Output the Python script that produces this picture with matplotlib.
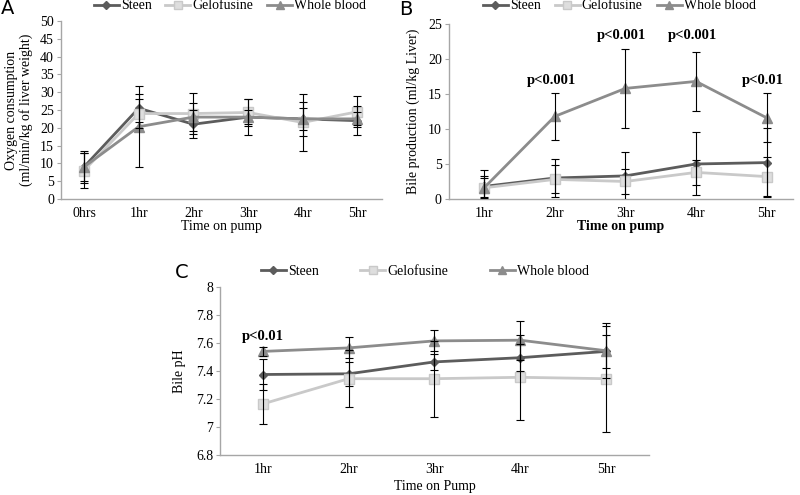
import matplotlib
matplotlib.use("Agg")
import matplotlib.pyplot as plt
import numpy as np

plt.rcParams['font.family'] = ['Liberation Serif', 'DejaVu Serif']

# panel A - oxygen consumption
hours_a = ['0hrs', '1hr', '2hr', '3hr', '4hr', '5hr']
steen_a = [9.0, 25.5, 21.0, 23.0, 22.5, 22.0]
steen_a_err = [4.5, 4.0, 4.0, 5.0, 4.8, 4.0]
gelo_a = [8.0, 24.0, 24.0, 24.3, 21.5, 24.5]
gelo_a_err = [5.0, 4.0, 5.8, 3.7, 8.0, 4.3]
blood_a = [9.0, 20.3, 23.0, 23.0, 22.5, 22.5]
blood_a_err = [4.0, 11.3, 4.0, 2.0, 3.0, 1.8]

# panel B - bile production
hours_b = ['1hr', '2hr', '3hr', '4hr', '5hr']
steen_b = [1.8, 3.0, 3.3, 5.0, 5.2]
steen_b_err = [1.5, 2.7, 3.4, 4.5, 4.9]
gelo_b = [1.6, 2.8, 2.5, 3.8, 3.2]
gelo_b_err = [1.4, 2.0, 1.8, 1.8, 2.8]
blood_b = [1.6, 11.8, 15.8, 16.8, 11.6]
blood_b_err = [2.6, 3.4, 5.6, 4.2, 3.5]
pvals_b = ['', 'p<0.001', 'p<0.001', 'p<0.001', 'p<0.01']
pval_y_b = [0, 17.0, 23.4, 23.4, 16.9]

# panel C - bile pH
hours_c = ['1hr', '2hr', '3hr', '4hr', '5hr']
steen_c = [7.375, 7.38, 7.465, 7.495, 7.54]
steen_c_err = [0.11, 0.085, 0.055, 0.095, 0.12]
gelo_c = [7.165, 7.345, 7.345, 7.355, 7.345]
gelo_c_err = [0.145, 0.205, 0.27, 0.305, 0.38]
blood_c = [7.54, 7.565, 7.615, 7.62, 7.545]
blood_c_err = [0.03, 0.075, 0.075, 0.14, 0.195]

c_steen = '#5c5c5c'
c_gelo = '#c9c9c9'
c_blood = '#8c8c8c'
c_axis = '#a6a6a6'


def draw(ax, labels, series, errs):
    x = np.arange(len(labels))
    styles = [
        dict(color=c_steen, marker='D', ms=4.5, mfc=c_steen, mec=c_steen, label='Steen'),
        dict(color=c_gelo, marker='s', ms=7, mfc='#dedede', mec=c_gelo, label='Gelofusine'),
        dict(color=c_blood, marker='^', ms=7, mfc=c_blood, mec=c_blood, label='Whole blood'),
    ]
    for y, st in zip(series, styles):
        ax.plot(x, y, lw=2, zorder=2, **st)
    for y, e in zip(series, errs):
        ax.errorbar(x, y, yerr=e, fmt='none', ecolor='black', elinewidth=0.8,
                    capsize=3, capthick=0.8, zorder=3)
    ax.set_xticks(x)
    ax.set_xticklabels(labels)
    for s in ['top', 'right']:
        ax.spines[s].set_visible(False)
    for s in ['left', 'bottom']:
        ax.spines[s].set_color(c_axis)
        ax.spines[s].set_linewidth(1)
    ax.tick_params(axis='x', length=0, pad=6, labelsize=10)
    ax.tick_params(axis='y', length=3, color=c_axis, pad=2, labelsize=10)


def add_legend(ax, cx, cy, spacing):
    ax.legend(loc='center', bbox_to_anchor=(cx, cy), bbox_transform=fig.transFigure,
              ncol=3, frameon=False, fontsize=10, handlelength=1.8, handletextpad=0.15,
              columnspacing=spacing, borderaxespad=0, markerscale=0.85)


fig = plt.figure(figsize=(8, 4.95), dpi=100, facecolor='white')

axA = fig.add_axes([0.07625, 0.598, 0.40125, 0.3596])
draw(axA, hours_a, [steen_a, gelo_a, blood_a], [steen_a_err, gelo_a_err, blood_a_err])
axA.set_xlim(-0.42, 5.45)
axA.set_ylim(0, 50)
axA.set_yticks(np.arange(0, 51, 5))
axA.set_ylabel('Oxygen consumption\n(ml/min/kg of liver weight)', fontsize=10, linespacing=1.05)
axA.yaxis.set_label_coords(-0.088, 0.5)
axA.set_xlabel('Time on pump', fontsize=10)
axA.xaxis.set_label_coords(0.5, -0.12)
add_legend(axA, 0.2875, 0.988, 1.0)

axB = fig.add_axes([0.561, 0.598, 0.43, 0.3535])
draw(axB, hours_b, [steen_b, gelo_b, blood_b], [steen_b_err, gelo_b_err, blood_b_err])
axB.set_xlim(-0.5, 4.37)
axB.set_ylim(0, 25)
axB.set_yticks(np.arange(0, 26, 5))
axB.set_ylabel('Bile production (ml/kg Liver)', fontsize=10)
axB.yaxis.set_label_coords(-0.085, 0.5)
axB.set_xlabel('Time on pump', fontsize=10, fontweight='bold')
axB.xaxis.set_label_coords(0.5, -0.12)
for i, (t, yv) in enumerate(zip(pvals_b, pval_y_b)):
    if t:
        axB.text(i - 0.05, yv, t, ha='center', va='center', fontsize=10.5, fontweight='bold')
add_legend(axB, 0.774, 0.988, 1.0)

axC = fig.add_axes([0.275, 0.0808, 0.536, 0.3394])
draw(axC, hours_c, [steen_c, gelo_c, blood_c], [steen_c_err, gelo_c_err, blood_c_err])
axC.set_xlim(-0.5, 4.5)
axC.set_ylim(6.8, 8.0)
ticks_c = [6.8, 7.0, 7.2, 7.4, 7.6, 7.8, 8.0]
axC.set_yticks(ticks_c)
axC.set_yticklabels(['6.8', '7', '7.2', '7.4', '7.6', '7.8', '8'])
axC.set_ylabel('Bile pH', fontsize=10)
axC.yaxis.set_label_coords(-0.08, 0.5)
axC.set_xlabel('Time on Pump', fontsize=10)
axC.xaxis.set_label_coords(0.5, -0.15)
axC.text(0, 7.65, 'p<0.01', ha='center', va='center', fontsize=10.5, fontweight='bold')
add_legend(axC, 0.531, 0.4525, 3.0)

fig.text(0.01, 0.982, 'A', family='DejaVu Sans', fontsize=14, ha='center', va='center')
fig.text(0.5075, 0.98, 'B', family='DejaVu Sans', fontsize=14, ha='center', va='center')
fig.text(0.2275, 0.4485, 'C', family='DejaVu Sans', fontsize=14, ha='center', va='center')

fig.savefig('out.png', dpi=100, facecolor='white')
